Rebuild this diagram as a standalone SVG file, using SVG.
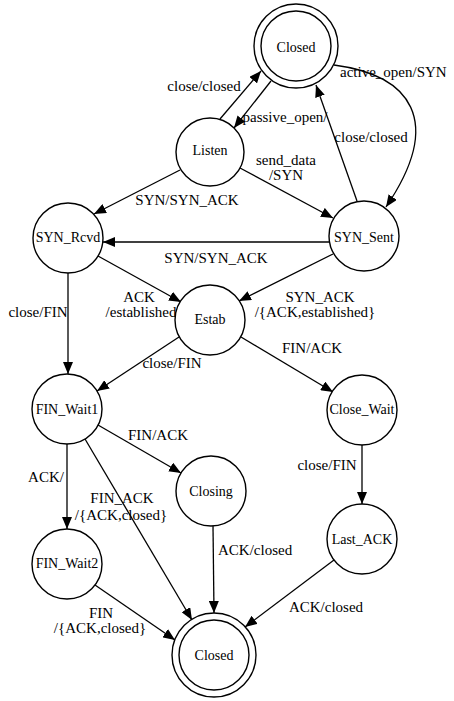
<svg xmlns="http://www.w3.org/2000/svg" width="454" height="701" viewBox="0 0 454 701">
<style>
.n{fill:#fff;stroke:#000;stroke-width:1.4}
.nt{font-family:"Liberation Serif",serif;font-size:14px;text-anchor:middle;fill:#000}
.e{fill:none;stroke:#000;stroke-width:1.3}
.l{font-family:"Liberation Serif",serif;font-size:15px;text-anchor:middle;fill:#000}
</style>
<defs>
<marker id="a" viewBox="0 0 12 10" refX="12" refY="5" markerWidth="12" markerHeight="10" markerUnits="userSpaceOnUse" orient="auto">
<path d="M0,0 L12,5 L0,10 Z" fill="#000"/>
</marker>
</defs>
<rect width="454" height="701" fill="#fff"/>
<g id="edges">
<line class="e" x1="220" y1="119" x2="261" y2="71" marker-end="url(#a)"/>
<line class="e" x1="271" y1="81" x2="234" y2="128" marker-end="url(#a)"/>
<path class="e" d="M334,65 C410,75 445,120 386,207" marker-end="url(#a)"/>
<line class="e" x1="357" y1="201" x2="316" y2="85" marker-end="url(#a)"/>
<line class="e" x1="180" y1="170" x2="94" y2="214" marker-end="url(#a)"/>
<line class="e" x1="240" y1="168" x2="333" y2="218" marker-end="url(#a)"/>
<line class="e" x1="329" y1="242" x2="103" y2="242" marker-end="url(#a)"/>
<line class="e" x1="98" y1="256" x2="181" y2="302" marker-end="url(#a)"/>
<line class="e" x1="333" y1="254" x2="239" y2="301" marker-end="url(#a)"/>
<line class="e" x1="68" y1="273" x2="68" y2="374" marker-end="url(#a)"/>
<line class="e" x1="179" y1="337" x2="97" y2="391" marker-end="url(#a)"/>
<line class="e" x1="241" y1="337" x2="333" y2="392" marker-end="url(#a)"/>
<line class="e" x1="98" y1="425" x2="181" y2="473" marker-end="url(#a)"/>
<line class="e" x1="67" y1="444" x2="67" y2="529" marker-end="url(#a)"/>
<line class="e" x1="85" y1="439" x2="192" y2="620" marker-end="url(#a)"/>
<line class="e" x1="213" y1="526" x2="214" y2="613" marker-end="url(#a)"/>
<line class="e" x1="362" y1="445" x2="362" y2="504" marker-end="url(#a)"/>
<line class="e" x1="334" y1="560" x2="245" y2="627" marker-end="url(#a)"/>
<line class="e" x1="95" y1="585" x2="175" y2="640" marker-end="url(#a)"/>
<text class="l" x="204" y="91">close/closed</text>
<text class="l" x="285" y="122">passive_open/</text>
<text class="l" x="340" y="77" style="text-anchor:start">active_open/SYN</text>
<text class="l" x="371" y="142">close/closed</text>
<text class="l" x="187" y="205">SYN/SYN_ACK</text>
<text class="l" x="286" y="165">send_data</text>
<text class="l" x="286" y="180">/SYN</text>
<text class="l" x="216" y="263">SYN/SYN_ACK</text>
<text class="l" x="139" y="302">ACK</text>
<text class="l" x="141" y="317">/established</text>
<text class="l" x="320" y="302">SYN_ACK</text>
<text class="l" x="315" y="317">/{ACK,established}</text>
<text class="l" x="38" y="317">close/FIN</text>
<text class="l" x="172" y="368">close/FIN</text>
<text class="l" x="312" y="353">FIN/ACK</text>
<text class="l" x="158" y="440">FIN/ACK</text>
<text class="l" x="46" y="482">ACK/</text>
<text class="l" x="122" y="503">FIN_ACK</text>
<text class="l" x="121" y="520">/{ACK,closed}</text>
<text class="l" x="218" y="555" style="text-anchor:start">ACK/closed</text>
<text class="l" x="327" y="470">close/FIN</text>
<text class="l" x="326" y="612">ACK/closed</text>
<text class="l" x="101" y="618">FIN</text>
<text class="l" x="100" y="633">/{ACK,closed}</text>
</g>
<g id="closed_top"><circle class="n" cx="296" cy="46" r="42"/><circle class="n" cx="296" cy="46" r="35"/><text class="nt" x="296" y="52">Closed</text></g>
<g id="listen"><circle class="n" cx="210" cy="152" r="34"/><text class="nt" x="210" y="155">Listen</text></g>
<g id="syn_rcvd"><circle class="n" cx="68" cy="238" r="35"/><text class="nt" x="68" y="242">SYN_Rcvd</text></g>
<g id="syn_sent"><circle class="n" cx="364" cy="236" r="35"/><text class="nt" x="364" y="242">SYN_Sent</text></g>
<g id="estab"><circle class="n" cx="210" cy="320" r="35"/><text class="nt" x="210" y="324">Estab</text></g>
<g id="fin_wait1"><circle class="n" cx="67" cy="409" r="35"/><text class="nt" x="67" y="414">FIN_Wait1</text></g>
<g id="close_wait"><circle class="n" cx="362" cy="410" r="35"/><text class="nt" x="362" y="414">Close_Wait</text></g>
<g id="closing"><circle class="n" cx="211" cy="491" r="35"/><text class="nt" x="211" y="496">Closing</text></g>
<g id="fin_wait2"><circle class="n" cx="67" cy="564" r="35"/><text class="nt" x="67" y="568">FIN_Wait2</text></g>
<g id="last_ack"><circle class="n" cx="362" cy="539" r="35"/><text class="nt" x="362" y="544">Last_ACK</text></g>
<g id="closed_bottom"><circle class="n" cx="214" cy="655" r="42"/><circle class="n" cx="214" cy="655" r="35"/><text class="nt" x="214" y="660">Closed</text></g>
</svg>
